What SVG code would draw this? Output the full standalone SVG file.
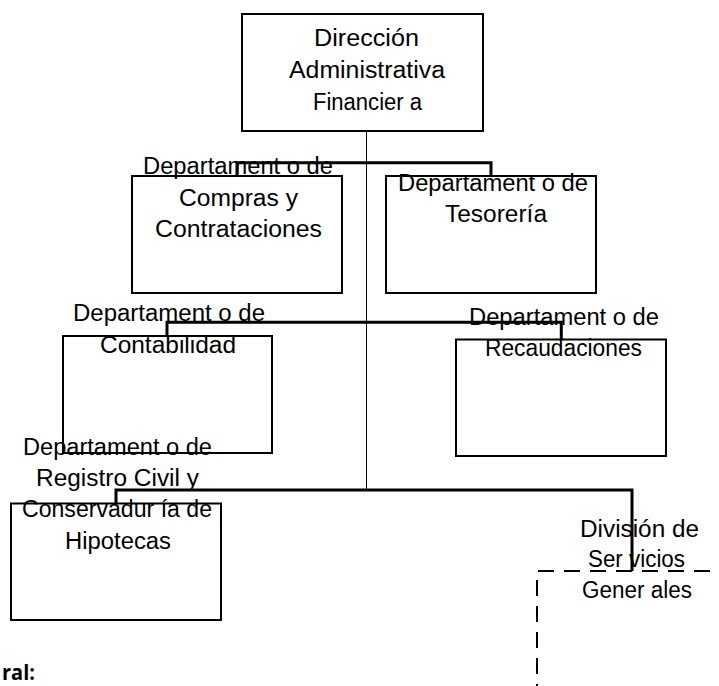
<svg xmlns="http://www.w3.org/2000/svg" width="719" height="686" viewBox="0 0 719 686">
<style>
.box{fill:none;stroke:#000;stroke-width:2}
.dash{fill:none;stroke:#000;stroke-width:2;stroke-dasharray:16 10}
.con{fill:none;stroke:#000;stroke-width:3}
.thin{fill:none;stroke:#000;stroke-width:1;shape-rendering:crispEdges}
text{font-family:"Liberation Sans",Arial,sans-serif;font-size:23px;fill:#000}
.b{font-family:"Open Sans","Liberation Sans",sans-serif;font-weight:bold;font-size:22px}
</style>
<rect width="719" height="686" fill="#fff"/>
<g id="connectors">
<path class="thin" d="M366.5 131V490"/>
<path class="con" d="M237 176V162.7H491V176"/>
<path class="con" d="M167 336V322.3H561.3V339.5"/>
<path class="con" d="M116 503.5V490H632V571"/>
</g>
<g id="n-direccion">
<rect class="box" x="242" y="14" width="241" height="117"/>
<text x="314" y="46" textLength="105" lengthAdjust="spacingAndGlyphs">Dirección</text>
<text x="289" y="78" textLength="156" lengthAdjust="spacingAndGlyphs">Administrativa</text>
<text x="313" y="110" textLength="109" lengthAdjust="spacingAndGlyphs">Financier a</text>
</g>
<g id="n-compras">
<rect class="box" x="132" y="176" width="210" height="117"/>
<text x="143" y="174" textLength="190" lengthAdjust="spacingAndGlyphs">Departament o de</text>
<text x="179" y="206" textLength="119" lengthAdjust="spacingAndGlyphs">Compras y</text>
<text x="155" y="236.5" textLength="167" lengthAdjust="spacingAndGlyphs">Contrataciones</text>
</g>
<g id="n-tesoreria">
<rect class="box" x="386" y="176" width="210" height="117"/>
<text x="398" y="190.5" textLength="190" lengthAdjust="spacingAndGlyphs">Departament o de</text>
<text x="445" y="221.5" textLength="102" lengthAdjust="spacingAndGlyphs">Tesorería</text>
</g>
<g id="n-contabilidad">
<rect class="box" x="63" y="336" width="209" height="117"/>
<text x="73" y="321" textLength="192" lengthAdjust="spacingAndGlyphs">Departament o de</text>
<text x="100" y="353" textLength="136" lengthAdjust="spacingAndGlyphs">Contabilidad</text>
</g>
<g id="n-recaudaciones">
<rect class="box" x="456" y="339.5" width="210" height="116.5"/>
<text x="469" y="325" textLength="190" lengthAdjust="spacingAndGlyphs">Departament o de</text>
<text x="485" y="356" textLength="157" lengthAdjust="spacingAndGlyphs">Recaudaciones</text>
</g>
<g id="n-registro">
<rect class="box" x="11" y="503.5" width="210" height="116.5"/>
<text x="23" y="455" textLength="189" lengthAdjust="spacingAndGlyphs">Departament o de</text>
<text x="36" y="486" textLength="163" lengthAdjust="spacingAndGlyphs">Registro Civil y</text>
<text x="22" y="517" textLength="190" lengthAdjust="spacingAndGlyphs">Conservadur ía de</text>
<text x="65" y="549" textLength="106" lengthAdjust="spacingAndGlyphs">Hipotecas</text>
</g>
<g id="n-servicios">
<path class="dash" d="M537 700V571H730"/>
<text x="580" y="537" textLength="119" lengthAdjust="spacingAndGlyphs">División de</text>
<text x="588" y="567" textLength="97" lengthAdjust="spacingAndGlyphs">Ser vicios</text>
<text x="582" y="598" textLength="110" lengthAdjust="spacingAndGlyphs">Gener ales</text>
</g>
<text class="b" x="2" y="680" textLength="33" lengthAdjust="spacingAndGlyphs">ral:</text>
</svg>
